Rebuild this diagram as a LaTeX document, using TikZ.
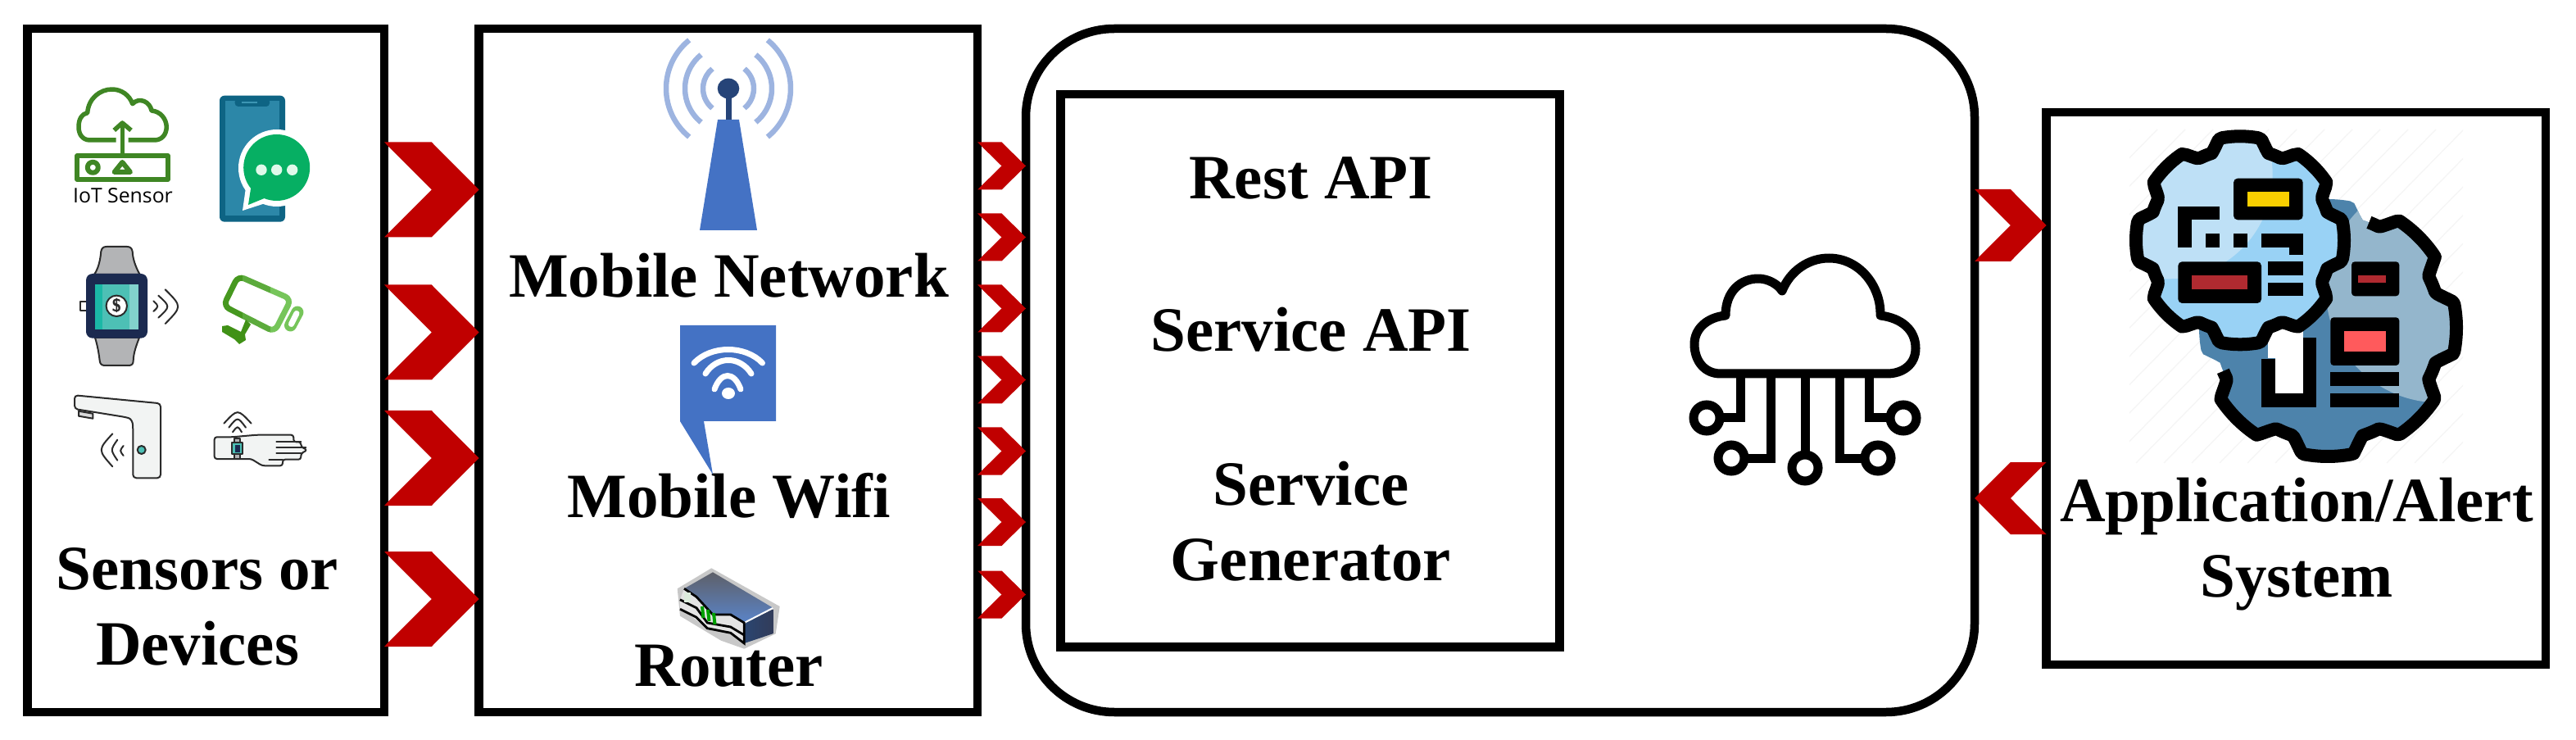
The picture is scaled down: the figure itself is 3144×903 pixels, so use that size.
\documentclass[tikz,border=0pt]{standalone}
\usepackage{fontspec}
\setmainfont{Liberation Serif}
\newfontfamily\iconfont{Open Sans}
\usetikzlibrary{calc}
\definecolor{linkred}{HTML}{C00000}
\definecolor{towerblue}{HTML}{4472C4}
\definecolor{towerdark}{HTML}{264478}
\definecolor{wavelight}{HTML}{9DB4E0}
\definecolor{iotgreen}{HTML}{3F8624}
\definecolor{iconink}{HTML}{2B2B2B}
\definecolor{iconpale}{HTML}{F2F4F3}
\definecolor{teal}{HTML}{4DC0B5}
\definecolor{tealdark}{HTML}{1BB8A6}
\definecolor{teallight}{HTML}{82D2CC}
\definecolor{navyband}{HTML}{1B2A50}
\definecolor{strapgrey}{HTML}{B3B4B6}
\definecolor{phonedark}{HTML}{0E6484}
\definecolor{phonescreen}{HTML}{2C87A8}
\definecolor{phoneline}{HTML}{3C96B4}
\definecolor{chatgreen}{HTML}{06AF63}
\definecolor{chatdot}{HTML}{DFF9EA}
\definecolor{camdark}{HTML}{46981F}
\definecolor{cammid}{HTML}{5CAB3C}
\definecolor{camlight}{HTML}{76C55A}
\definecolor{camfoot}{HTML}{409116}
\definecolor{routerhalo}{HTML}{C8C8C8}
\definecolor{routertop}{HTML}{5E6069}
\definecolor{routerblue}{HTML}{5A84C8}
\definecolor{routerside}{HTML}{2A4570}
\definecolor{routerback}{HTML}{323C5A}
\definecolor{routerface}{HTML}{E4E4E4}
\definecolor{routerlamp}{HTML}{DCEBDC}
\definecolor{routergreen}{HTML}{00A000}
\definecolor{geardeep}{HTML}{4D83AB}
\definecolor{gearpale}{HTML}{94B6CC}
\definecolor{gearsky}{HTML}{99D2F5}
\definecolor{gearice}{HTML}{BEE0F6}
\definecolor{tagred}{HTML}{B02A30}
\definecolor{tagcoral}{HTML}{FF5A5C}
\definecolor{tagyellow}{HTML}{F9CF00}
\tikzset{
  framebox/.style={draw=black,line width=5.25pt,inner sep=0pt,outer sep=0pt},
  lbl/.style={font=\fontsize{38.5}{46}\selectfont\bfseries,align=center,anchor=base,inner sep=0pt,outer sep=0pt},
  thinink/.style={draw=iconink,line width=1pt,line cap=round,line join=round},
  iotline/.style={draw=iotgreen,line width=2.75pt,line join=round},
  gearline/.style={draw=black,line width=8pt,line join=round},
}
\newcommand{\chevronlink}[4]{
  \coordinate (lvl) at (0,#3);
  \coordinate (tail) at (#1 |- lvl);
  \coordinate (head) at (#2 |- lvl);
  \coordinate (mid) at ($(tail)!.5!(head)$);
  \fill[linkred] ($(tail)+(0,-#4)$) -- ($(mid)+(0,-#4)$) -- (head) -- ($(mid)+(0,#4)$) -- ($(tail)+(0,#4)$) -- (mid) -- cycle;
}
\newcommand{\gearcurve}[4]{plot[samples=181,domain=#3] ({#1+#4*(0.94+0.06*min(1,max(-1,2.6*cos(8*\x)+1.1)))*cos(\x)},{#2+#4*(0.94+0.06*min(1,max(-1,2.6*cos(8*\x)+1.1)))*sin(\x)})}
\begin{document}
\begin{tikzpicture}[x=0.5pt,y=-0.5pt]
  \useasboundingbox (0,0) rectangle (3144,903);
  \node[framebox,minimum width=217.75pt,minimum height=417pt] (sensors) at (251.25,452) {};
  \node[framebox,minimum width=304.25pt,minimum height=417pt] (network) at (888.75,452) {};
  \node[framebox,minimum width=579pt,minimum height=417pt,rounded corners=54pt] (platform) at (1831,452) {};
  \node[framebox,minimum width=304.5pt,minimum height=337.25pt] (services) at (1599,452.25) {};
  \node[framebox,minimum width=304.75pt,minimum height=337pt] (alerts) at (2802.25,474) {};

  \node[lbl] (sensorstext) at (241,811) {Sensors or\\[0pt]Devices};
  \node[lbl] (mobilenet) at (889.5,363) {Mobile Network};
  \node[lbl] (mobilewifi) at (889.5,631) {Mobile Wifi};
  \node[lbl] (router) at (889.5,837) {Router};
  \node[lbl] (restapi) at (1600,243) {Rest API};
  \node[lbl] (serviceapi) at (1600,429) {Service API};
  \node[lbl] (servicegen) at (1600,708) {Service\\[0pt]Generator};
  \node[lbl] (alerttext) at (2803,728) {Application/Alert\\[0pt]System};

  \foreach \y in {231.5,405.5,559,731}{
    \chevronlink{sensors.east}{network.west}{\y}{58}
  }
  \foreach \y in {202.5,289.5,376.5,463.5,550.5,637,725.5}{
    \chevronlink{network.east}{platform.west}{\y}{29}
  }
  \chevronlink{platform.east}{alerts.west}{275}{44}
  \chevronlink{alerts.west}{platform.east}{608}{44}

  % iot sensor
  \draw[iotline] (141.7,171) -- (110,171) .. controls (100,171) and (96,163) .. (96,155) .. controls (96,145) and (100,139) .. (106.7,137.7) .. controls (108,120) and (122,109) .. (136.7,109) .. controls (148,109) and (158,116) .. (161.7,126.7) .. controls (170,118) and (183,124) .. (185,135) .. controls (196,136) and (203,145) .. (203.3,155) .. controls (203,165) and (197,171) .. (188.3,171) -- (156.7,171);
  \draw[iotline] (149.3,190) -- (149.3,152);
  \draw[iotline] (139.3,159) -- (149.3,150) -- (160,159);
  \draw[iotline] (94,190) rectangle (205,219);
  \draw[iotline,line width=3pt] (113.3,204.3) circle[radius=6.5];
  \draw[iotline,fill=white,line width=3pt] (149.3,198) -- (159,210) -- (139.6,210) -- cycle;
  \node[font=\iconfont\fontsize{12.4}{15}\selectfont,anchor=base,inner sep=0pt] (iottext) at (150,247.7) {IoT Sensor};

  % phone
  \fill[phonedark,rounded corners=3pt] (268,116.7) rectangle (348,270.7);
  \fill[phonescreen] (275,123) rectangle (341,263);
  \fill[phonedark,rounded corners=2pt] (286.7,120) -- (329,120) -- (329,130) -- (286.7,130) -- cycle;
  \draw[phoneline,line width=.7pt] (295,125) -- (314,125);
  \fill[white] (338,205) circle[radius=47];
  \fill[white,line join=round] (301,222) -- (296,257) -- (330,246) -- cycle;
  \fill[chatgreen] (337.7,204.5) circle[radius=40.5];
  \fill[chatgreen] (306.7,226) -- (303,250) -- (325,241) -- cycle;
  \foreach \x in {319,337.7,356.7}{
    \fill[chatdot] (\x,207.3) circle[radius=6.7];
  }

  % watch
  \draw[thinink,fill=strapgrey] (115,335) .. controls (122,325) and (123,310) .. (123.3,307) .. controls (124,303) and (126,301) .. (130,301) -- (155,301) .. controls (159,301) and (161,303) .. (161.7,307) .. controls (162,315) and (165,325) .. (170.7,335) -- cycle;
  \draw[thinink,fill=strapgrey] (116,412) .. controls (120,425) and (121,435) .. (121.7,440) .. controls (122,444) and (124,446) .. (128,446) -- (157,446) .. controls (161,446) and (162.7,444) .. (162.7,440) .. controls (163,430) and (167,420) .. (170,412) -- cycle;
  \draw[thinink,fill=white] (98.3,368) rectangle (106,379);
  \fill[navyband,rounded corners=4pt] (105,334) rectangle (180,412.7);
  \fill[teal] (116,346.7) rectangle (169,401.7);
  \fill[tealdark] (116,346.7) rectangle (125,401.7);
  \fill[teallight] (158,346.7) rectangle (169,401.7);
  \draw[thinink,fill=white] (142.3,373.3) circle[radius=12.7];
  \node[font=\fontsize{11}{12}\selectfont\bfseries\sffamily,inner sep=0pt,text=iconink] (coin) at (142.3,373.3) {\$};
  \draw[thinink] (187.3,367.3) .. controls (194,373.7) .. (187.3,380);
  \draw[thinink] (193.3,360.7) .. controls (208,374) .. (193.3,387.7);
  \draw[thinink] (201.7,353.3) .. controls (222.3,374) .. (201.7,395);

  % camera
  \foreach \cam/\xa/\xb in {camdark/260/296,cammid/296/330,camlight/330/380}{
    \begin{scope}
      \clip (\xa,320) rectangle (\xb,425);
      \draw[\cam,line width=3.5pt,rounded corners=4pt] (290.7,336.7) -- (355.3,365) -- (335,405) -- (272.7,373.3) -- cycle;
      \draw[\cam,line width=7.5pt,line cap=round] (354.5,397) -- (363,381);
    \end{scope}
  }
  \draw[white,line width=3.5pt,line cap=round] (355.5,395.5) -- (362,382.5);
  \fill[camfoot,line join=round] (300,390) -- (306,396) -- (299,408) -- (300,415) -- (292,420) -- (286,414) -- (271,405) -- (271,398) -- (278,397) -- (294,405) -- cycle;

  % faucet
  \draw[thinink,fill=iconpale,rounded corners=2pt] (91,482.3) -- (196,492.3) -- (196,583.3) -- (162.3,583.3) -- (162.3,523.3) .. controls (162,515) and (160,511) .. (153,509) -- (91,499) -- cycle;
  \draw[thinink,fill=strapgrey!50] (96,501.7) -- (113.3,504.7) -- (113.3,510.7) -- (96,507.7) -- cycle;
  \draw[thinink,fill=teal] (172.7,549) circle[radius=5];
  \draw[thinink] (150.7,544) .. controls (146,550) .. (150.7,556);
  \draw[thinink] (143.3,536.7) .. controls (134.7,549) .. (143.3,561.7);
  \draw[thinink] (137.3,529.3) .. controls (119.3,549) .. (137.3,569.3);

  % wrist
  \draw[thinink,fill=iconpale,rounded corners=1.5pt] (261.7,533.3) -- (283.3,533.3) -- (313.3,530.7) -- (358.3,530.7) -- (358.3,539.3) -- (367.3,539.3) -- (367.3,545) -- (375,549.3) -- (367.3,553.3) -- (367.3,560.7) -- (345,560.7) -- (345,568.3) -- (320,568.3) -- (306.7,560) -- (261.7,560) -- cycle;
  \draw[thinink] (337.3,539.3) -- (367.3,539.3);
  \draw[thinink] (337.3,546) -- (373.3,546);
  \draw[thinink] (337.3,553.3) -- (367.3,553.3);
  \draw[thinink] (328.3,560.7) -- (345,560.7);
  \draw[thinink,fill=strapgrey] (286,535) rectangle (293.3,560);
  \draw[thinink,fill=teal] (283.3,540) rectangle (296,554);
  \fill[navyband] (286.7,543.3) rectangle (293.3,551.7);
  \draw[thinink] (273.3,516.7) .. controls (290,498.7) .. (306.7,516.7);
  \draw[thinink] (279.3,521.7) .. controls (290,508.3) .. (300,521.7);
  \draw[thinink] (284,527.3) .. controls (290,519.3) .. (295,527.3);

  % tower
  \coordinate (towerball) at (889,108);
  \foreach \r in {31,53,76}{
    \draw[wavelight,line width=3.25pt] (towerball) ++(-51:\r) arc[start angle=-51,end angle=51,radius=\r];
    \draw[wavelight,line width=3.25pt] (towerball) ++(129:\r) arc[start angle=129,end angle=231,radius=\r];
  }
  \fill[towerblue] (876,146) -- (902,146) -- (924,281) -- (854,281) -- cycle;
  \fill[towerdark] (885.5,115) rectangle (892.5,146);
  \fill[towerdark] (towerball) circle[x radius=13.3,y radius=12.4];

  % wifi bubble
  \fill[towerblue] (830,397) -- (947,397) -- (947,514) -- (859,514) -- (870,579) -- (830,514) -- cycle;
  \foreach \a/\b/\t in {847/930.5/423,861/917/436,872/904/455}{
    \draw[white,line width=3.5pt,line cap=round] (\a,{\t+20}) .. controls ({\a+(\b-\a)/4},{\t-2}) and ({\b-(\b-\a)/4},{\t-2}) .. (\b,{\t+20});
  }
  \fill[white] (889,480) circle[x radius=8,y radius=7];

  % router
  \fill[routerhalo] (868.3,693.3) -- (951.7,740) -- (946.7,773.3) -- (908.3,791.7) -- (880,781.7) -- (830,751.7) -- (826.7,718.3) -- cycle;
  \shade[top color=routertop,bottom color=routerblue] (835,718.3) -- (870,698.3) -- (943.3,741.7) -- (908.3,760) -- (891.7,750) -- (870,750) -- (850,728.3) -- cycle;
  \shade[left color=routerside,right color=routerback] (908.3,760) -- (943.3,743.3) -- (943.3,773.3) -- (908.3,785) -- cycle;
  \draw[white,line width=1pt] (908.3,760) -- (943.3,742);
  \fill[routerface] (830,731.7) -- (835,718.3) -- (850,728.3) -- (870,750) -- (891.7,750) -- (908.3,760) -- (908.3,785) -- (891.7,772.3) -- (863.3,766.7) -- (830,741.7) -- cycle;
  \draw[black,line width=1.4pt] (835,718.3) -- (850,728.3) -- (870,750) -- (891.7,750) -- (908.3,760) -- (908.3,785) -- (891.7,772.3) -- (863.3,766.7) -- (850,753.3) -- (830,743.3);
  \draw[black,line width=1.4pt] (830,731.7) -- (850,741.7) -- (863.3,760) -- (891.7,765) -- (908.3,775);
  \fill[routerlamp] (835,723) rectangle (843,735);
  \foreach \a/\b in {857/740,864/744,871/748}{
    \draw[routergreen,line width=2pt] (\a,\b) -- (\a+1.5,\b+14);
  }

  % cloud
  \draw[black,line width=5.5pt,line join=round] (2100,456) .. controls (2080,456) and (2068,440) .. (2068,420) .. controls (2068,400) and (2085,387) .. (2106,385) .. controls (2106,355) and (2125,340) .. (2146,340) .. controls (2158,340) and (2170,347) .. (2175,355) .. controls (2185,330) and (2208,315) .. (2232,315) .. controls (2270,315) and (2296,350) .. (2295,385) .. controls (2320,388) and (2338,402) .. (2338,425) .. controls (2338,445) and (2322,456) .. (2303,456) -- cycle;
  \foreach \cx/\cy/\lx in {2083/510/2124,2113/559/2161,2292/559/2245,2323/510/2281}{
    \draw[black,line width=5.5pt] (\lx,456) |- (\cx,\cy);
    \draw[black,line width=5.5pt,fill=white] (\cx,\cy) circle[radius=16];
  }
  \draw[black,line width=5.5pt] (2203,456) -- (2203,555);
  \draw[black,line width=5.5pt,fill=white] (2203,571) circle[radius=16];

  % gears
  \begin{scope}
    \clip (2599,158) rectangle (3006,565);
    \foreach \s in {0,1,...,24}{
      \draw[black!4,line width=.7pt] ({2599+\s*34-400},565) -- ++(400,-407);
    }
  \end{scope}
  \fill[geardeep] \gearcurve{2841}{400}{0:360}{157} -- cycle;
  \begin{scope}
    \clip \gearcurve{2841}{400}{0:360}{157} -- cycle;
    \fill[gearpale] (2976.7,353.3) circle[radius=138];
  \end{scope}
  \fill[white] (2776.7,400) rectangle (2810.7,480);
  \fill[white] (2768,400) rectangle (2777,437);
  \fill[black,rounded corners=2pt] (2870,319.3) rectangle (2928.3,361.3);
  \fill[tagred] (2877.7,336) rectangle (2912,344.7);
  \fill[black,rounded corners=2pt] (2844.3,387.3) rectangle (2928.3,446);
  \fill[tagcoral] (2861,404) rectangle (2912,429.3);
  \fill[black] (2844.3,454.3) rectangle (2928.3,471.3);
  \fill[black] (2844.3,480) rectangle (2928.3,496.7);
  \fill[black] (2760,438.3) rectangle (2776.7,496.7);
  \fill[black] (2810.7,412.3) rectangle (2827.3,496.7);
  \fill[black] (2760,480) rectangle (2827.3,496.7);
  \draw[gearline] \gearcurve{2841}{400}{-68.6:157.5}{157};
  \fill[gearsky] \gearcurve{2734}{293.3}{0:360}{127} -- cycle;
  \begin{scope}
    \clip \gearcurve{2734}{293.3}{0:360}{127} -- cycle;
    \fill[gearice] (2646.7,213.3) circle[radius=127];
  \end{scope}
  \draw[gearline] \gearcurve{2734}{293.3}{0:360}{127} -- cycle;
  \fill[black,rounded corners=2.5pt] (2726,217.7) rectangle (2810.7,268.3);
  \fill[tagyellow] (2742.7,234.3) rectangle (2794,251.7);
  \fill[black,rounded corners=2.5pt] (2658.3,319.3) rectangle (2760,370);
  \fill[tagred] (2675,336) rectangle (2743.3,353.3);
  \fill[black] (2768.3,319.3) rectangle (2810.7,336);
  \fill[black] (2768.3,344.7) rectangle (2810.7,361.3);
  \fill[black] (2658.3,251.7) rectangle (2709,268.3);
  \fill[black] (2658.3,251.7) rectangle (2675,302.3);
  \fill[black] (2692,285.3) rectangle (2709,302.3);
  \fill[black] (2726,285.3) rectangle (2743.3,302.3);
  \fill[black] (2760,285.3) rectangle (2810.7,302.3);
  \fill[black] (2794,285.3) rectangle (2810.7,310.7);
\end{tikzpicture}
\end{document}
